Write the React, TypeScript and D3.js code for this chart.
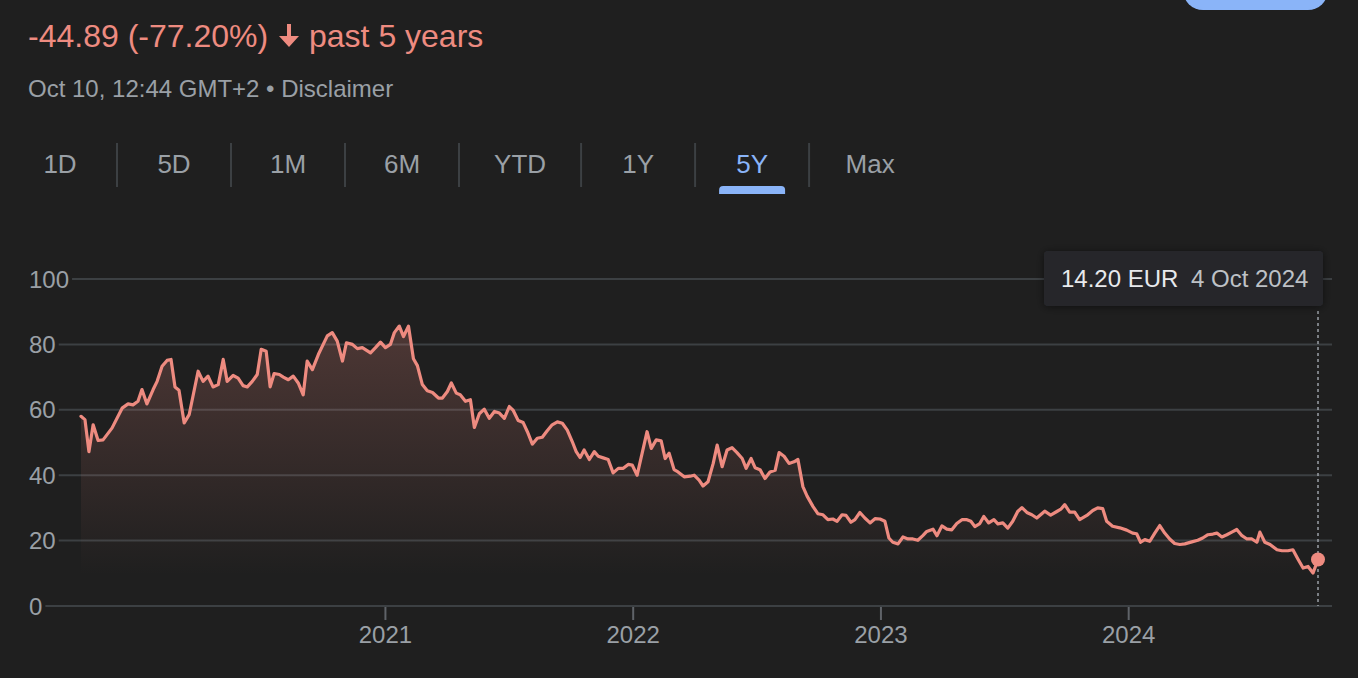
import React from "react";
import * as d3 from "d3";

const times = [
  2019.774, 2019.790, 2019.806, 2019.823, 2019.843, 2019.863, 2019.899, 2019.940, 2019.964, 2019.984,
  2020.004, 2020.020, 2020.040, 2020.065, 2020.081, 2020.101, 2020.121, 2020.137, 2020.153, 2020.169,
  2020.190, 2020.210, 2020.246, 2020.266, 2020.286, 2020.306, 2020.327, 2020.347, 2020.363, 2020.387,
  2020.407, 2020.427, 2020.444, 2020.464, 2020.484, 2020.500, 2020.520, 2020.536, 2020.552, 2020.573,
  2020.589, 2020.609, 2020.629, 2020.649, 2020.669, 2020.685, 2020.706, 2020.730, 2020.766, 2020.786,
  2020.806, 2020.827, 2020.843, 2020.867, 2020.887, 2020.907, 2020.940, 2020.960, 2020.980, 2021.000,
  2021.020, 2021.036, 2021.056, 2021.073, 2021.093, 2021.113, 2021.129, 2021.149, 2021.169, 2021.190,
  2021.214, 2021.230, 2021.250, 2021.266, 2021.286, 2021.302, 2021.323, 2021.343, 2021.359, 2021.379,
  2021.399, 2021.419, 2021.440, 2021.460, 2021.480, 2021.500, 2021.516, 2021.536, 2021.556, 2021.573,
  2021.593, 2021.613, 2021.633, 2021.653, 2021.673, 2021.694, 2021.714, 2021.734, 2021.754, 2021.770,
  2021.786, 2021.802, 2021.823, 2021.843, 2021.859, 2021.879, 2021.899, 2021.919, 2021.940, 2021.960,
  2021.980, 2021.996, 2022.016, 2022.036, 2022.056, 2022.073, 2022.093, 2022.113, 2022.129, 2022.145,
  2022.165, 2022.181, 2022.206, 2022.230, 2022.246, 2022.266, 2022.282, 2022.302, 2022.323, 2022.339,
  2022.359, 2022.379, 2022.399, 2022.419, 2022.440, 2022.456, 2022.476, 2022.492, 2022.512, 2022.532,
  2022.552, 2022.573, 2022.589, 2022.609, 2022.629, 2022.649, 2022.665, 2022.685, 2022.702, 2022.726,
  2022.746, 2022.766, 2022.786, 2022.806, 2022.823, 2022.843, 2022.859, 2022.879, 2022.895, 2022.915,
  2022.935, 2022.956, 2022.976, 2022.996, 2023.016, 2023.032, 2023.048, 2023.069, 2023.089, 2023.109,
  2023.129, 2023.149, 2023.169, 2023.185, 2023.210, 2023.226, 2023.246, 2023.266, 2023.286, 2023.306,
  2023.327, 2023.347, 2023.363, 2023.379, 2023.399, 2023.415, 2023.435, 2023.456, 2023.472, 2023.492,
  2023.512, 2023.532, 2023.552, 2023.569, 2023.589, 2023.609, 2023.629, 2023.661, 2023.685, 2023.710,
  2023.726, 2023.742, 2023.762, 2023.782, 2023.802, 2023.831, 2023.855, 2023.875, 2023.895, 2023.911,
  2023.935, 2023.964, 2023.992, 2024.016, 2024.032, 2024.048, 2024.065, 2024.085, 2024.105, 2024.125,
  2024.145, 2024.165, 2024.185, 2024.206, 2024.226, 2024.254, 2024.278, 2024.298, 2024.319, 2024.339,
  2024.355, 2024.375, 2024.395, 2024.415, 2024.435, 2024.456, 2024.476, 2024.496, 2024.516, 2024.528,
  2024.548, 2024.569, 2024.597, 2024.617, 2024.641, 2024.661, 2024.681, 2024.702, 2024.722, 2024.742,
  2024.762,
];

const prices = [
  58.0, 57.0, 47.2, 55.4, 50.6, 50.8, 54.4, 60.5, 61.8, 61.5,
  62.6, 66.2, 61.8, 66.2, 68.7, 73.3, 75.1, 75.4, 67.0, 66.0,
  56.0, 58.5, 71.8, 68.7, 70.3, 67.0, 67.7, 75.4, 68.7, 70.5,
  69.7, 67.4, 67.0, 68.7, 70.8, 78.5, 77.9, 67.0, 71.1, 70.8,
  70.0, 69.2, 70.3, 68.2, 64.6, 74.9, 72.3, 76.9, 82.6, 83.6,
  81.0, 74.9, 80.5, 80.0, 78.7, 79.0, 77.4, 79.0, 80.7, 79.0,
  80.0, 83.6, 85.6, 82.4, 85.6, 75.6, 73.5, 67.7, 65.8, 65.3,
  63.6, 63.6, 65.6, 68.2, 65.1, 64.6, 62.6, 63.1, 54.6, 58.8,
  60.2, 57.4, 59.5, 59.0, 57.4, 61.0, 59.8, 56.7, 56.1, 53.3,
  49.5, 51.3, 51.6, 53.6, 55.4, 56.3, 55.9, 53.8, 50.3, 47.2,
  45.4, 47.7, 44.8, 47.2, 45.8, 45.3, 44.8, 40.7, 42.1, 42.1,
  43.3, 43.1, 40.0, 46.7, 53.3, 48.2, 50.8, 50.5, 45.1, 46.7,
  41.7, 41.0, 39.5, 39.7, 40.0, 38.5, 36.7, 38.0, 43.6, 49.2,
  42.6, 47.7, 48.4, 46.9, 45.1, 42.1, 45.1, 42.3, 41.7, 39.0,
  41.0, 41.5, 46.9, 45.8, 43.6, 44.1, 44.8, 36.5, 33.6, 30.4,
  28.2, 27.9, 26.4, 26.6, 25.9, 27.9, 27.7, 25.6, 26.4, 28.6,
  26.9, 25.4, 26.7, 26.6, 25.9, 20.8, 19.5, 19.0, 21.1, 20.5,
  20.5, 20.1, 21.5, 22.8, 23.5, 21.5, 24.5, 23.5, 23.3, 25.2,
  26.4, 26.4, 25.9, 24.3, 25.2, 27.4, 25.4, 26.4, 25.1, 25.4,
  23.8, 25.9, 28.9, 30.1, 28.6, 27.9, 26.9, 29.0, 27.8, 28.9,
  29.6, 31.0, 28.7, 28.7, 26.4, 27.7, 29.2, 30.0, 29.8, 25.9,
  24.4, 23.9, 23.2, 22.3, 22.1, 19.5, 20.3, 19.8, 22.3, 24.6,
  22.3, 20.5, 19.1, 18.8, 19.0, 19.6, 20.1, 20.8, 21.8, 22.0,
  22.3, 21.1, 21.8, 22.6, 23.4, 21.5, 20.5, 20.5, 19.5, 22.6,
  19.5, 18.8, 17.2, 16.9, 16.9, 17.2, 14.4, 11.6, 12.1, 10.1,
  14.2,
];

const yTicks = [0, 20, 40, 60, 80, 100];
const xTickYears = [2021, 2022, 2023, 2024];
const tabs = ["1D", "5D", "1M", "6M", "YTD", "1Y", "5Y", "Max"];
const activeTab = "5Y";
const headline = "-44.89 (-77.20%)";
const headlineSuffix = "past 5 years";
const subtitle = "Oct 10, 12:44 GMT+2 • Disclaimer";
const tooltipPrice = "14.20 EUR";
const tooltipDate = "4 Oct 2024";

const W = 1358;
const H = 678;
const BG = "#1f1f1f";
const RED = "#ee8b80";
const GREY = "#9aa0a6";
const GRID = "#3c4043";
const BLUE = "#8ab4f8";
const FONT = "'Liberation Sans', Arial, sans-serif";

function toDate(t: number): Date {
  const y = Math.floor(t);
  const s = new Date(y, 0, 1).getTime();
  const e = new Date(y + 1, 0, 1).getTime();
  return new Date(s + (t - y) * (e - s));
}

export default function App() {
  const data = times.map((t, i) => ({ date: toDate(t), value: prices[i] }));
  const x = d3
    .scaleTime()
    .domain([data[0].date, data[data.length - 1].date])
    .range([81, 1318]);
  const y = d3.scaleLinear().domain([0, 100]).range([606, 279]);

  const line = d3
    .line<{ date: Date; value: number }>()
    .x((d) => x(d.date))
    .y((d) => y(d.value))
    .curve(d3.curveLinear);
  const area = d3
    .area<{ date: Date; value: number }>()
    .x((d) => x(d.date))
    .y0(y(0))
    .y1((d) => y(d.value))
    .curve(d3.curveLinear);

  const last = data[data.length - 1];
  const lx = x(last.date);
  const ly = y(last.value);

  // tabs layout
  const tabWidths = tabs.map((t) => Math.max(114, t.length * 18.7 + 66));
  const tabStarts: number[] = [];
  let acc = 3;
  tabWidths.forEach((w) => {
    tabStarts.push(acc);
    acc += w;
  });

  const plotRight = 1332;
  const labelLeft = 29;
  const digitW = 13.35;

  return (
    <div
      style={{
        position: "fixed",
        left: 0,
        top: 0,
        width: W,
        height: H,
        background: BG,
        overflow: "hidden",
      }}
    >
      <svg width={W} height={H} style={{ display: "block", fontFamily: FONT }}>
        <defs>
          <linearGradient id="areaGrad" gradientUnits="userSpaceOnUse" x1="0" y1="300" x2="0" y2="575">
            <stop offset="0" stopColor={RED} stopOpacity={0.25} />
            <stop offset="1" stopColor={RED} stopOpacity={0} />
          </linearGradient>
          <filter id="shadow" x="-20%" y="-50%" width="140%" height="200%">
            <feDropShadow dx="0" dy="1" stdDeviation="4" floodColor="#000" floodOpacity="0.5" />
          </filter>
        </defs>
        <rect width={W} height={H} fill={BG} />

        {/* top-right button fragment */}
        <rect x={1183} y={-30} width={145} height={40} rx={20} fill={BLUE} />

        {/* headline */}
        <text x={28} y={47} fontSize={32} fill={RED}>
          {headline}
        </text>
        <path d="M287,24 L291,24 L291,36 L299,36 L289,47 L279,36 L287,36 Z" fill={RED} />
        <text x={309} y={47} fontSize={32} fill={RED}>
          {headlineSuffix}
        </text>
        <text x={28} y={97} fontSize={24} fill={GREY}>
          {subtitle}
        </text>

        {/* tabs */}
        {tabs.map((t, i) => {
          const cx = tabStarts[i] + tabWidths[i] / 2;
          const active = t === activeTab;
          return (
            <g key={t}>
              <text x={cx} y={173} fontSize={26} textAnchor="middle" fill={active ? BLUE : GREY}>
                {t}
              </text>
              {i < tabs.length - 1 && (
                <line
                  x1={tabStarts[i] + tabWidths[i]}
                  x2={tabStarts[i] + tabWidths[i]}
                  y1={143}
                  y2={187}
                  stroke={GRID}
                  strokeWidth={2}
                />
              )}
              {active && (
                <path
                  d={`M${cx - 33},194 L${cx - 33},190 Q${cx - 33},186 ${cx - 29},186 L${cx + 29},186 Q${cx + 33},186 ${cx + 33},190 L${cx + 33},194 Z`}
                  fill={BLUE}
                />
              )}
            </g>
          );
        })}

        {/* y grid + labels */}
        {yTicks.map((v) => {
          const label = String(v);
          const x1 = labelLeft + label.length * digitW + 3;
          return (
            <g key={v}>
              <line x1={x1} x2={plotRight} y1={y(v)} y2={y(v)} stroke={GRID} strokeWidth={2} />
              <text x={labelLeft} y={y(v)} dy="0.36em" fontSize={24} fill={GREY}>
                {label}
              </text>
            </g>
          );
        })}

        {/* x ticks */}
        {xTickYears.map((yr) => {
          const xp = x(new Date(yr, 0, 1));
          return (
            <g key={yr}>
              <line x1={xp} x2={xp} y1={607} y2={620} stroke="#5f6368" strokeWidth={2} />
              <text x={xp} y={643} fontSize={24} textAnchor="middle" fill={GREY}>
                {yr}
              </text>
            </g>
          );
        })}

        {/* area + line */}
        <path d={area(data) || ""} fill="url(#areaGrad)" />
        <path
          d={line(data) || ""}
          fill="none"
          stroke={RED}
          strokeWidth={3.2}
          strokeLinejoin="round"
          strokeLinecap="round"
        />

        {/* hover guide */}
        <line
          x1={lx}
          x2={lx}
          y1={311}
          y2={y(0)}
          stroke={GREY}
          strokeWidth={1.5}
          strokeDasharray="3,3"
        />
        <circle cx={lx} cy={ly} r={7} fill={RED} />

        {/* tooltip */}
        <rect x={1044} y={251} width={279} height={55} rx={4} fill="#26272b" filter="url(#shadow)" />
        <text x={1061} y={287} fontSize={24} fill="#e8eaed">
          {tooltipPrice}
        </text>
        <text x={1191} y={287} fontSize={24} fill="#bdc1c6">
          {tooltipDate}
        </text>
      </svg>
    </div>
  );
}
